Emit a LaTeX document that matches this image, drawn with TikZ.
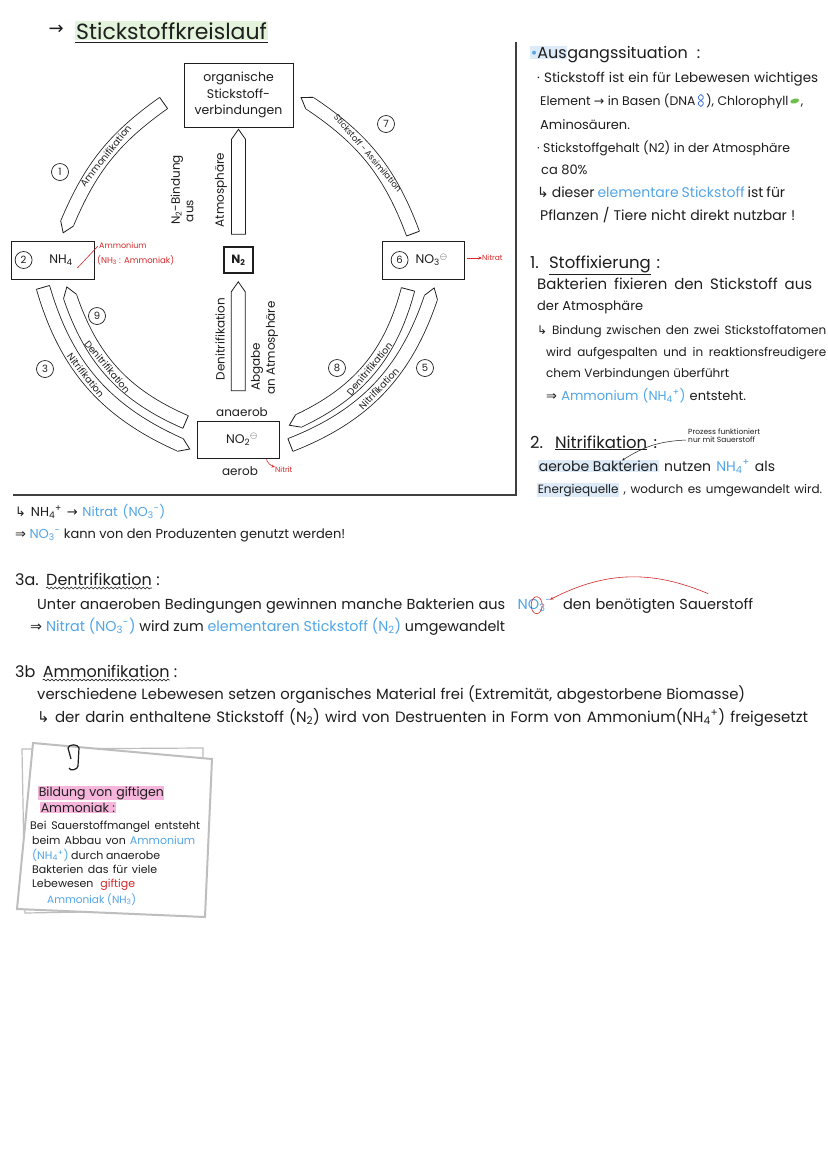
\documentclass[tikz,border=0pt]{standalone}
\usepackage{fontspec}
\setmainfont{Poppins}
\newfontfamily\symfont{DejaVu Sans}
\usetikzlibrary{arrows.meta, positioning, calc, shapes.arrows, decorations.markings, decorations.pathmorphing}
\definecolor{ink}{HTML}{1E1E1E}
\definecolor{inkblue}{HTML}{52A6E6}
\definecolor{inkred}{HTML}{D22A2A}
\definecolor{titlebg}{HTML}{E4F4DC}
\definecolor{bluebg}{HTML}{DDEBF8}
\definecolor{pinkbg}{HTML}{F6B5DB}
\definecolor{paper}{HTML}{BEBEBE}
\definecolor{dnablue}{HTML}{3F6FD8}
\definecolor{leaf}{HTML}{6CC04A}
\newcommand{\chemion}[2]{\textsubscript{#1}\textsuperscript{#2}}
\newcommand{\rarr}{{\symfont\char"2192}}
\newcommand{\Rarr}{{\symfont\char"21D2}}
\newcommand{\hook}{{\symfont\char"21B3}}
\newcommand{\bl}[1]{\textcolor{inkblue}{#1}}
\newcommand{\hlbox}[2]{{\setlength{\fboxsep}{0.6pt}\colorbox{#1}{#2}}}
\newcommand{\fitw}[2]{\makebox[#1pt][s]{#2}}
\tikzset{
    txt/.style={anchor=base west, inner sep=0pt, text=ink, font=\fontsize{13}{15}\selectfont},
    fs/.style={font=\fontsize{#1}{#1}\selectfont},
    tiny/.style={inner sep=0pt, text=inkred, font=\fontsize{7.5}{9}\selectfont},
    box/.style={rectangle, draw=ink, line width=0.8pt, align=center, inner sep=2pt,
                text=ink, font=\fontsize{12.5}{16.5}\selectfont},
    num/.style={circle, draw=ink, line width=0.7pt, inner sep=0pt, minimum size=17pt,
                text=ink, font=\fontsize{10}{12}\selectfont},
    pencil/.style={single arrow, draw=ink, line width=0.8pt, fill=white, inner sep=0pt,
                   single arrow head extend=0pt, single arrow tip angle=70,
                   minimum width=14pt, rotate=90},
    band/.style={preaction={draw=ink, line width=14.4pt}, draw=white, line width=12.8pt,
      postaction={decorate, decoration={markings,
        mark=at position 0 with {\draw[ink, line width=0.8pt] (0pt,-6.8pt) -- (0pt,6.8pt);},
        mark=at position 0.9999 with {\fill[white] (-0.6pt,-6.8pt) -- (10pt,0pt) -- (-0.6pt,6.8pt) -- cycle;
                                \draw[ink, line width=0.8pt] (0pt,-6.8pt) -- (10pt,0pt) -- (0pt,6.8pt);}}}},
    bandlbl/.style={sloped, text=ink, inner sep=0pt, font=\fontsize{9.5}{10}\selectfont},
    rot/.style={rotate=90, inner sep=0pt, text=ink, font=\fontsize{12}{14}\selectfont},
    redarr/.style={-{Stealth[length=3.5pt, width=3pt]}, draw=inkred, line width=0.6pt},
    frame/.style={draw=ink!85, line width=1.3pt},
    wavy/.style={draw=ink, line width=0.6pt, decorate, decoration={snake, amplitude=0.9pt, segment length=4pt}},
}

\begin{document}
\begin{tikzpicture}[x=1pt, y=1pt]
  \path[use as bounding box, fill=white] (0,0) rectangle (828,-1171);

  % Titel
  \node[txt, font=\fontsize{22}{26}\selectfont, fill=titlebg, inner sep=1pt] (title) at (75,-39) {Stickstoffkreislauf};
  \draw[ink, line width=0.8pt] ([yshift=-2pt]title.south west) -- ([yshift=-2pt]title.south east);
  \node[txt, font=\fontsize{18}{20}\selectfont, anchor=east] (tarrow) at ([xshift=-11pt, yshift=1pt]title.west) {\rarr};

  % Kreislauf
  \node[box, minimum width=109pt, minimum height=64pt] (org) at (238.5,-95)
        {organische\\Stickstoff-\\verbindungen};
  \node[box, minimum width=29pt, minimum height=26pt, line width=1.6pt,
        font=\fontsize{12}{14}\selectfont\bfseries] (n2) at (238.5,-260) {N\textsubscript{2}};
  \node[box, minimum width=83pt, minimum height=38pt] (nh4) at (52.5,-260) {\hspace{17pt}NH\textsubscript{4}};
  \node[box, minimum width=82pt, minimum height=38pt] (no3) at (423,-260) {\hspace{17pt}NO\chemion{3}{$\ominus$}};
  \node[box, minimum width=82pt, minimum height=37pt] (no2) at (238,-439.5) {\hspace{8pt}NO\chemion{2}{$\ominus$}};
  \node[num] (c2) at ([xshift=13pt]nh4.west) {2};
  \node[num] (c6) at ([xshift=18pt]no3.west) {6};

  \node[pencil, minimum height=105pt] (up1) at ($(n2.north)!0.5!(org.south)$) {};
  \node[pencil, minimum height=109pt] (up2) at ($(n2.south)!0.46!(no2.north)$) {};

  \node[rot] (bind1) at (177,-190) {N\textsubscript{2}-Bindung};
  \node[rot] (bind2) at (190,-211) {aus};
  \node[rot] (bind3) at (221,-190) {Atmosphäre};
  \node[rot] (deni) at (220,-339) {Denitrifikation};
  \node[rot] (abg1) at (257,-367) {Abgabe};
  \node[rot] (abg2) at (272,-348) {an Atmosphäre};

  \node[txt, anchor=south, fs=12] (anaer) at ([xshift=4pt, yshift=4pt]no2.north) {anaerob};
  \node[txt, anchor=north, fs=12] (aer) at ([xshift=2pt, yshift=-8pt]no2.south) {aerob};

  \foreach \n/\x/\y in {1/60/172, 7/386/124, 9/97/316, 3/45/369, 8/337/368, 5/425/368}
    \node[num] (c\n) at (\x,-\y) {\n};

  \draw[band] ($(org.west)+(-20,-8)$) to[bend right=16]
        node[bandlbl] {Ammonifikation} ($(nh4.north)+(14.5,17)$);
  \draw[band] ($(no3.north)+(-10,7)$) to[bend right=18]
        node[bandlbl, pos=0.55, fs=8.5] {Stickstoff - Assimilation} ($(org.east)+(16,-8)$);
  \draw[band] ($(nh4.south)+(-9.5,-8)$) to[bend right=25]
        node[bandlbl, pos=0.45] {Nitrifikation} ($(no2.west)+(-16,-5.5)$);
  \draw[band] ($(no2.west)+(-11,17.5)$) to[bend left=24]
        node[bandlbl, pos=0.55] {Denitrifikation} ($(nh4.south)+(17.5,-17)$);
  \draw[band] ($(no3.south)+(-15,-10)$) to[bend left=25]
        node[bandlbl] {Denitrifikation} ($(no2.east)+(19,18.5)$);
  \draw[band] ($(no2.east)+(11,-5.5)$) to[bend right=25]
        node[bandlbl] {Nitrifikation} ($(no3.south)+(8,-18)$);

  % rote Notizen
  \node[tiny, anchor=base west, fs=8] (amm) at (99,-248) {Ammonium};
  \node[tiny, anchor=base west, fs=8.5] (ammk) at (97,-263) {(NH\textsubscript{3} : Ammoniak)};
  \draw[inkred, line width=0.6pt] ($(nh4.east)+(-17,-8)$) -- ($(amm.west)+(-1,-1)$);
  \node[tiny, anchor=west] (nitrat) at (482,-258) {Nitrat};
  \draw[redarr] ($(no3.east)+(3,2)$) -- (nitrat.west);
  \node[tiny, anchor=north west] (nitrit) at (275,-467) {Nitrit};
  \draw[redarr] ($(no2.south east)+(-13,-1)$) to[bend right=25] (nitrit.north west);

  \draw[frame] (516,-42) -- (516,-495) -- (13,-495);

  % rechte Spalte
  \node[txt, fs=16] (ausg) at (530,-58) {\fitw{170}{\hlbox{bluebg}{\bl{•}Aus}gangssituation :}};
  \node[txt, fs=13.5] (r1) at (537,-82) {\fitw{281}{· Stickstoff ist ein für Lebewesen wichtiges}};
  \node[txt, fs=12.5] (r2a) at (540,-105) {Element \rarr\ in Basen (DNA};
  \node[txt, fs=12.5, base right=10pt of r2a] (r2b) {), Chlorophyll};
  \node[txt, fs=12.5, base right=12pt of r2b] (r2c) {,};
  \coordinate (dna) at ($(r2a.base east)!0.5!(r2b.base west)+(0,4.5)$);
  \draw[dnablue, line width=0.8pt, domain=-6:6, samples=25, smooth, shift={(dna)}] plot ({2.5*sin(\x*30)}, \x);
  \draw[dnablue, line width=0.8pt, domain=-6:6, samples=25, smooth, shift={(dna)}] plot ({-2.5*sin(\x*30)}, \x);
  \coordinate (blob) at ($(r2b.base east)!0.5!(r2c.base west)+(0,4)$);
  \fill[leaf, rotate around={15:(blob)}] (blob) ellipse (4.5pt and 2.4pt);
  \node[txt] (r3) at (540,-129) {Aminosäuren.};
  \node[txt, fs=12.5] (r4) at (537,-152) {· Stickstoffgehalt (N2) in der Atmosphäre};
  \node[txt] (r5) at (541,-174) {ca 80\%};
  \node[txt, fs=14] (r6) at (537,-197) {\fitw{248}{\hook\ dieser \bl{elementare Stickstoff} ist für}};
  \node[txt, fs=14] (r7) at (540,-220) {\fitw{255}{Pflanzen / Tiere nicht direkt nutzbar !}};

  \node[txt, fs=16.5] (s1) at (530,-268) {\fitw{130}{1. \underline{Stoffixierung} :}};
  \node[txt, fs=15] (r8) at (537,-289) {\fitw{275}{Bakterien fixieren den Stickstoff aus}};
  \node[txt] (r9) at (537,-310) {der Atmosphäre};
  \node[txt, fs=12] (r10) at (537,-334) {\fitw{289}{\hook\ Bindung zwischen den zwei Stickstoffatomen}};
  \node[txt, fs=12] (r11) at (546,-356) {\fitw{280}{wird aufgespalten und in reaktionsfreudigere}};
  \node[txt, fs=12] (r12) at (546,-377) {\fitw{183}{chem Verbindungen überführt}};
  \node[txt, fs=13] (r13) at (546,-400) {\fitw{200}{\Rarr\ \bl{Ammonium (NH\chemion{4}{+})} entsteht.}};

  \node[txt, fs=16.5] (s2) at (530,-448) {\fitw{127}{2. \underline{Nitrifikation} :}};
  \node[tiny, text=ink, align=left, anchor=south west, font=\fontsize{7.5}{8.5}\selectfont] (proz) at (688,-443)
        {Prozess funktioniert\\nur mit Sauerstoff};
  \node[txt, fs=14] (r14) at (538,-471) {\fitw{237}{\hlbox{bluebg}{aerobe Bakterien} nutzen \bl{NH\chemion{4}{+}} als}};
  \node[txt, fs=12] (r15) at (537,-493) {\fitw{285}{\hlbox{bluebg}{Energiequelle} , wodurch es umgewandelt wird.}};
  \coordinate (bakt) at ($(r14.north west)+(84,-1)$);
  \draw[ink, line width=0.5pt, -{Stealth[length=3pt]}] ([xshift=-2pt, yshift=3pt]proz.south west) to[bend right=15] (bakt);

  % unterer Teil
  \node[txt, fs=13] (b1) at (15,-516) {\fitw{150}{\hook\ NH\chemion{4}{+} \rarr\ \bl{Nitrat (NO\chemion{3}{-})}}};
  \node[txt, fs=13] (b2) at (15,-538) {\fitw{330}{\Rarr\ \bl{NO\chemion{3}{-}} kann von den Produzenten genutzt werden!}};

  \node[txt, fs=16] (s3a) at (15,-585) {3a.};
  \node[txt, fs=16, base right=7pt of s3a] (dent) {Dentrifikation};
  \node[txt, fs=16, base right=4pt of dent] (s3ac) {:};
  \draw[wavy] ([yshift=-3pt]dent.base west) -- ([yshift=-3pt]dent.base east);
  \node[txt, fs=14.5] (b3a) at (37,-609) {\fitw{468}{Unter anaeroben Bedingungen gewinnen manche Bakterien aus}};
  \node[txt, fs=14.5, base right=12pt of b3a] (b3no) {\bl{NO\chemion{3}{-}}};
  \node[txt, fs=14.5, base right=11pt of b3no] (b3c) {\fitw{190}{den benötigten Sauerstoff}};
  \draw[inkred, line width=0.6pt] ([xshift=2pt]b3no.center) ellipse (5.5pt and 8.5pt);
  \coordinate (sauer) at ($(b3c.north east)+(-45,4)$);
  \draw[redarr] (sauer) to[bend right=25] ($(b3no.north east)+(-2,-1)$);
  \node[txt, fs=14.3] (b4) at (30,-631) {\fitw{475}{\Rarr\ \bl{Nitrat (NO\chemion{3}{-})} wird zum \bl{elementaren Stickstoff (N\textsubscript{2})} umgewandelt}};

  \node[txt, fs=16] (s3b) at (15,-677) {3b};
  \node[txt, fs=16, base right=7pt of s3b] (ammf) {Ammonifikation};
  \node[txt, fs=16, base right=4pt of ammf] (s3bc) {:};
  \draw[wavy] ([yshift=-3pt]ammf.base west) -- ([yshift=-3pt]ammf.base east);
  \node[txt, fs=14.8] (b5) at (37,-699) {\fitw{708}{verschiedene Lebewesen setzen organisches Material frei (Extremität, abgestorbene Biomasse)}};
  \node[txt, fs=15] (b6) at (37,-722) {\fitw{771}{\hook\ der darin enthaltene Stickstoff (N\textsubscript{2}) wird von Destruenten in Form von Ammonium(NH\chemion{4}{+}) freigesetzt}};

  % Notizzettel
  \draw[paper, line width=1.2pt] (22,-749) -- (203,-748) -- (201,-910) -- (25,-913) -- cycle;
  \draw[paper, line width=2pt, fill=white] (33,-743) -- (212,-759) -- (205,-917) -- (17,-909) -- cycle;
  \draw[ink, line width=1.2pt] (71,-759) -- (68,-748) to[out=80, in=100] (79,-748) -- (78,-766) to[out=-90, in=-80] (69,-768);
  \node[txt, fs=12.5] (g1) at (38,-796) {\hlbox{pinkbg}{\fitw{125}{Bildung von giftigen}}};
  \node[txt, fs=12.5] (g2) at (40,-812) {\hlbox{pinkbg}{Ammoniak :}};
  \node[txt, fs=11] (g3) at (30,-829) {\fitw{170}{Bei Sauerstoffmangel entsteht}};
  \node[txt, fs=11] (g4) at (32,-844) {\fitw{163}{beim Abbau von \bl{Ammonium}}};
  \node[txt, fs=11] (g5) at (32,-859) {\fitw{128}{\bl{(NH\chemion{4}{+})} durch anaerobe}};
  \node[txt, fs=11] (g6) at (32,-873) {\fitw{125}{Bakterien das für viele}};
  \node[txt, fs=11] (g7) at (32,-887) {\fitw{103}{Lebewesen \textcolor{inkred}{giftige}}};
  \node[txt, fs=10.5] (g8) at (47,-903) {\bl{Ammoniak (NH\textsubscript{3})}};

\end{tikzpicture}
\end{document}
